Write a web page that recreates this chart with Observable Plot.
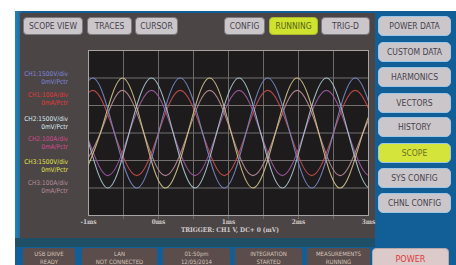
<!DOCTYPE html>
<html><head><meta charset="utf-8">
<script src="https://cdn.jsdelivr.net/npm/d3@7"></script>
<script src="https://cdn.jsdelivr.net/npm/@observablehq/plot@0.6"></script>
<style>
html,body{margin:0;padding:0;background:#fff;width:456px;height:265px;overflow:hidden}
#root{position:relative;width:456px;height:265px;font-family:"Liberation Sans Narrow","DejaVu Sans Condensed",sans-serif;overflow:hidden}
.box{position:absolute;box-sizing:border-box}
.btn{position:absolute;box-sizing:border-box;background:#cbc6ca;border:1px solid #7d797e;border-radius:4px;color:#46434c;font-size:8.5px;display:flex;align-items:center;justify-content:center;white-space:nowrap}
.side{border:1.5px solid #9cc6e6;border-radius:5px}
.lbl{position:absolute;right:388px;text-align:right;font-size:6.5px;line-height:7.5px;white-space:nowrap;font-family:"DejaVu Sans Condensed",sans-serif}
.stat{position:absolute;top:248px;height:22px;box-sizing:border-box;background:#5b4d4b;border-radius:2px;color:#d6c4ba;font-size:6px;line-height:8px;text-align:center;padding-top:2px;white-space:nowrap;font-family:"DejaVu Sans Condensed",sans-serif}
</style></head>
<body><div id="root"></div>
<script>
// ---- data ----
const topButtons = ["SCOPE VIEW","TRACES","CURSOR"];
const stateButtons = ["CONFIG","RUNNING","TRIG-D"];
const sideButtons = ["POWER DATA","CUSTOM DATA","HARMONICS","VECTORS","HISTORY","SCOPE","SYS CONFIG","CHNL CONFIG"];
const statusLine1 = ["USB DRIVE","LAN","01:50pm","INTEGRATION","MEASUREMENTS"];
const statusLine2 = ["READY","NOT CONNECTED","12/05/2014","STARTED","RUNNING"];
const powerLabel = "POWER";
const channelScale = ["CH1:1500V/div","CH1:100A/div","CH2:1500V/div","CH2:100A/div","CH3:1500V/div","CH3:100A/div"];
const channelOffset = ["0mV/Pctr","0mA/Pctr","0mV/Pctr","0mA/Pctr","0mV/Pctr","0mA/Pctr"];
const channelColors = ["#7f86dc","#e23a3a","#dcecf2","#d44a8e","#e2e24a","#b88c9c"];
const xTicks = [-1,0,1,2,3];
const xTickLabels = ["-1ms","0ms","1ms","2ms","3ms"];
const xGrid = [-0.5,0,0.5,1,1.5,2,2.5];
const yGrid = [-2,-1,0,1,2];
const triggerText = "TRIGGER: CH1 V, DC+ 0 (mV)";

const ch1VTime = [-1.25,-0.94,-0.63,-0.31,0,0.31,0.63,0.94,1.25,1.56,1.88,2.19,2.5,2.81,3.13];
const ch1VVal  = [0,2,0,-2,0,2,0,-2,0,2,0,-2,0,2,0];
const ch1ITime = [-1.25,-0.94,-0.63,-0.31,0,0.31,0.63,0.94,1.25,1.56,1.88,2.19,2.5,2.81,3.13];
const ch1IVal  = [0,1.55,0,-1.55,0,1.55,0,-1.55,0,1.55,0,-1.55,0,1.55,0];
const ch2VTime = [-1.35,-1.04,-0.73,-0.42,-0.10,0.21,0.52,0.83,1.15,1.46,1.77,2.08,2.40,2.71,3.02,3.33];
const ch2VVal  = [2,0,-2,0,2,0,-2,0,2,0,-2,0,2,0,-2,0];
const ch2ITime = [-1.35,-1.04,-0.73,-0.42,-0.10,0.21,0.52,0.83,1.15,1.46,1.77,2.08,2.40,2.71,3.02,3.33];
const ch2IVal  = [1.55,0,-1.55,0,1.55,0,-1.55,0,1.55,0,-1.55,0,1.55,0,-1.55,0];
const ch3VTime = [-1.15,-0.83,-0.52,-0.21,0.10,0.42,0.73,1.04,1.35,1.67,1.98,2.29,2.60,2.92,3.23];
const ch3VVal  = [-2,0,2,0,-2,0,2,0,-2,0,2,0,-2,0,2];
const ch3ITime = [-1.15,-0.83,-0.52,-0.21,0.10,0.42,0.73,1.04,1.35,1.67,1.98,2.29,2.60,2.92,3.23];
const ch3IVal  = [-1.55,0,1.55,0,-1.55,0,1.55,0,-1.55,0,1.55,0,-1.55,0,1.55];

const traceColors = {ch1V:"#7488c8", ch1I:"#c44c4c", ch2V:"#a8c6ce", ch2I:"#9c5aa0", ch3V:"#cfc088", ch3I:"#b88c94"};

// ---- layout ----
const root = document.getElementById("root");
function el(cls, css, text){const d=document.createElement("div"); if(cls) d.className=cls; Object.assign(d.style, css); if(text!=null) d.textContent=text; root.appendChild(d); return d;}

el("box",{left:"15px",top:"11px",width:"441px",height:"254px",background:"#125e97"});
el("box",{left:"15px",top:"11px",width:"7px",height:"228px",background:"linear-gradient(90deg,#1c86c4,#2f5f80)"});
el("box",{left:"20px",top:"13px",width:"355px",height:"225px",background:"#4b4546"});
el("box",{left:"15px",top:"238px",width:"360px",height:"9px",background:"#1f4f66"});

const topX = [[23,60],[87,45],[135,43]];
topButtons.forEach((t,i)=>el("btn",{left:topX[i][0]+"px",top:"17px",width:topX[i][1]+"px",height:"18px"},t));
const stateX = [[224,41],[269,49],[321,49]];
stateButtons.forEach((t,i)=>{
  const b=el("btn",{left:stateX[i][0]+"px",top:"17px",width:stateX[i][1]+"px",height:"18px"},t);
  if(t==="RUNNING"){b.style.background="#cfe22e";b.style.color="#56621a";b.style.border="1px solid #a8b830";}
});
const sideY = [16,42,67,93,117,143,168,193];
sideButtons.forEach((t,i)=>{
  const b=el("btn side",{left:"378px",top:sideY[i]+"px",width:"73px",height:"20px"},t);
  if(t==="SCOPE"){b.style.background="#d4e43a";b.style.color="#6a7224";}
});
const statX = [[23,52],[82,75],[163,67],[235,67],[307,63]];
statusLine1.forEach((t,i)=>{
  const s=el("stat",{left:statX[i][0]+"px",width:statX[i][1]+"px"});
  s.innerHTML = t+"<br>"+statusLine2[i];
});
el("btn",{left:"372px",top:"248px",width:"77px",height:"22px",background:"#dccaca",color:"#e03a3a",border:"1px solid #b8a8a8",fontSize:"9px",alignItems:"flex-start",paddingTop:"5px"},powerLabel);

const lblTop = [71,92,116,136,159,180];
channelScale.forEach((t,i)=>{
  const d=el("lbl",{top:lblTop[i]+"px",color:channelColors[i]});
  d.innerHTML = t+"<br>"+channelOffset[i];
});
el("box",{left:"130px",top:"226px",width:"200px",textAlign:"center",fontSize:"6.5px",fontWeight:"bold",color:"#d2cbcb",fontFamily:"'DejaVu Serif Condensed',serif",whiteSpace:"nowrap"},triggerText);

// ---- chart ----
function series(t,v){return t.map((x,i)=>({t:x,v:v[i]}));}
const traces = [
  ["ch2I",series(ch2ITime,ch2IVal)],
  ["ch3I",series(ch3ITime,ch3IVal)],
  ["ch1I",series(ch1ITime,ch1IVal)],
  ["ch2V",series(ch2VTime,ch2VVal)],
  ["ch3V",series(ch3VTime,ch3VVal)],
  ["ch1V",series(ch1VTime,ch1VVal)]
];

const chart = Plot.plot({
  width:456, height:265,
  marginLeft:88, marginRight:88, marginTop:50, marginBottom:50,
  style:{background:"transparent", color:"#d2caca", fontFamily:"'DejaVu Serif Condensed',serif", overflow:"visible"},
  x:{domain:[-1,3], axis:null},
  y:{domain:[-3,3], axis:null},
  marks:[
    Plot.frame({fill:"#1d1b1c"}),
    Plot.ruleX(xGrid,{stroke:"#6e6a6a",strokeWidth:1,y1:-3.15,y2:3}),
    Plot.ruleY(yGrid,{stroke:"#757171",strokeWidth:1}),
    ...traces.map(([k,d])=>Plot.line(d,{x:"t",y:"v",curve:"natural",clip:true,stroke:traceColors[k],strokeWidth:1.1,strokeOpacity:0.9})),
    Plot.frame({stroke:"#a8a4a4",strokeWidth:1}),
    Plot.text(xTicks,{x:d=>d,text:(d,i)=>xTickLabels[i],frameAnchor:"bottom",dy:6,lineAnchor:"middle",fontSize:6.5,fontWeight:"bold",fill:"#d2caca"})
  ]
});
Object.assign(chart.style,{position:"absolute",left:"0px",top:"0px",zIndex:"5",maxWidth:"none",pointerEvents:"none"});
root.appendChild(chart);
</script>
</body></html>
